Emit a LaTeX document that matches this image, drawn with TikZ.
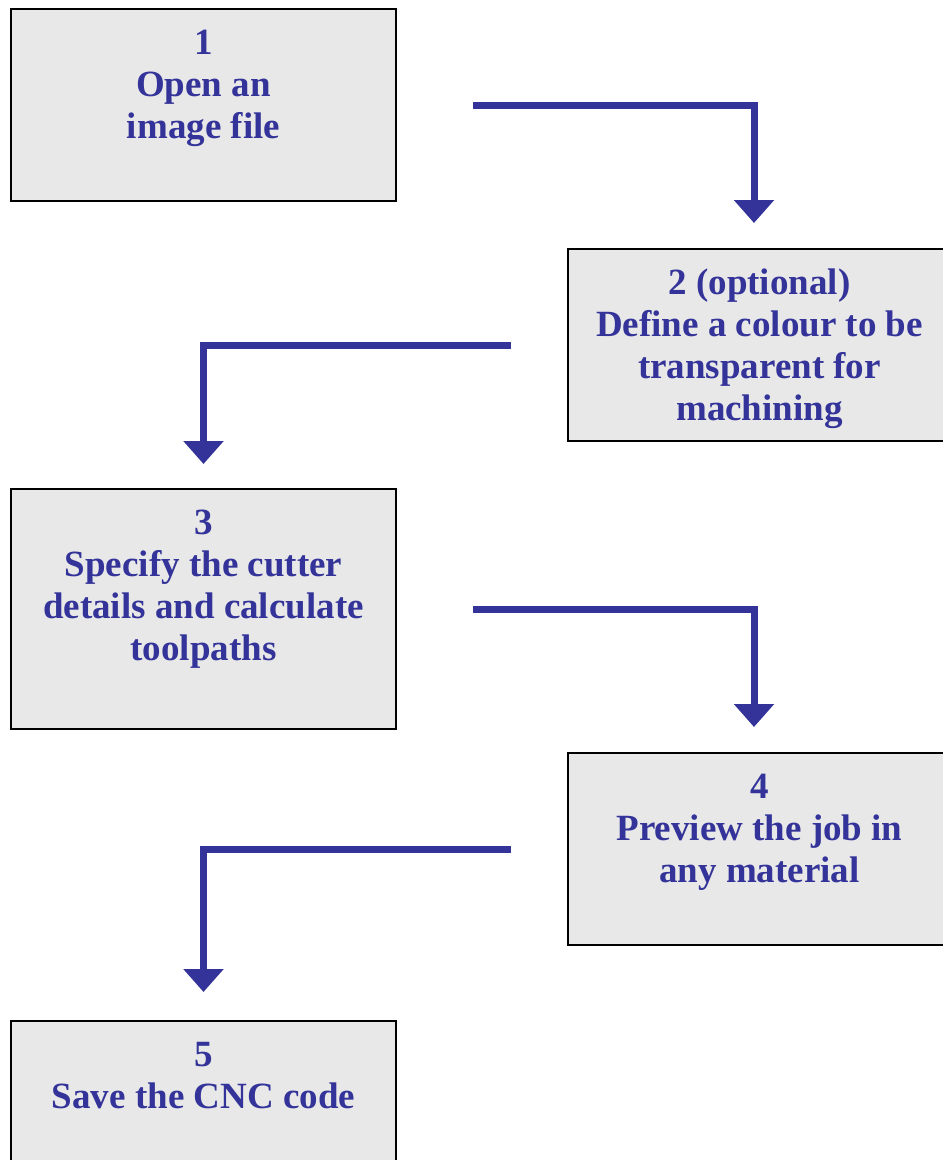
\documentclass[tikz,border=0pt]{standalone}
\usepackage{fontspec}
\setmainfont{Liberation Serif}
\usetikzlibrary{arrows.meta,calc}
\definecolor{flowblue}{HTML}{333399}
\definecolor{boxgray}{HTML}{E8E8E8}
\begin{document}
\begin{tikzpicture}[x=1pt,y=-1pt,
  stepbox/.style={draw=black, line width=2pt, fill=boxgray, minimum width=385pt, minimum height=192pt, inner sep=0pt},
  steptext/.style={text=flowblue, font=\fontsize{37}{42}\selectfont\bfseries, align=center, anchor=north, inner sep=0pt},
  flow/.style={draw=flowblue, line width=7pt, line join=miter, -{Triangle[width=39pt,length=23pt]}}]
\useasboundingbox (0,0) rectangle (943,1160);
\clip (0,0) rectangle (943,1160);
\node[stepbox] (b1) at (203.5,105) {};
\node[stepbox] (b2) at (760.5,345) {};
\node[stepbox, minimum height=240pt] (b3) at (203.5,609) {};
\node[stepbox] (b4) at (760.5,849) {};
\node[stepbox] (b5) at (203.5,1117) {};
\node[steptext] (t1) at ($(b1.north)+(0,16)$) {\rule{0pt}{30pt}1\\Open an\\image file};
\node[steptext] (t2) at ($(b2.north)+(-1,16)$) {\rule{0pt}{30pt}2 (optional)\\Define a colour to be\\transparent for\\machining};
\node[steptext] (t3) at ($(b3.north)+(0,16)$) {\rule{0pt}{30pt}3\\Specify the cutter\\details and calculate\\toolpaths};
\node[steptext] (t4) at ($(b4.north)+(-1,16)$) {\rule{0pt}{30pt}4\\Preview the job in\\any material};
\node[steptext] (t5) at ($(b5.north)+(0,16)$) {\rule{0pt}{30pt}5\\Save the CNC code};
\draw[flow] ($(b1.east)+(76,0)$) -| ($(b2.north)+(-6.5,-25)$);
\draw[flow] ($(b2.west)+(-56,0)$) -| ($(b3.north)+(0,-24)$);
\draw[flow] ($(b3.east)+(76,0)$) -| ($(b4.north)+(-6.5,-25)$);
\draw[flow] ($(b4.west)+(-56,0)$) -| ($(b5.north)+(0,-28)$);
\end{tikzpicture}
\end{document}
